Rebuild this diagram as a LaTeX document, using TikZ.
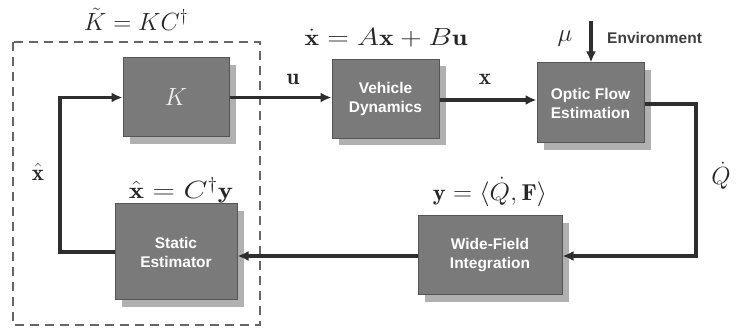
\documentclass[tikz,border=0pt]{standalone}
\usepackage{fontspec}
\newfontfamily\boxfont{Liberation Sans}
\usetikzlibrary{arrows.meta,shadows}
\definecolor{boxfill}{HTML}{7A7A7A}
\definecolor{boxline}{HTML}{555555}
\definecolor{shadowc}{HTML}{B0B0B0}
\definecolor{linec}{HTML}{2E2E2E}
\definecolor{dashc}{HTML}{666666}
\definecolor{kcol}{HTML}{EEEEEE}
\newcommand{\hstretch}[2]{\scalebox{#1}[1]{#2}}
\tikzset{
  blk/.style={draw=boxline, line width=1pt, fill=boxfill, text=white,
    font=\boxfont\bfseries\fontsize{15.5}{19}\selectfont, align=center,
    inner sep=0pt,
    drop shadow={shadow xshift=7pt, shadow yshift=-7pt, fill=shadowc, opacity=1}},
  conn/.style={draw=linec, line width=3.2pt},
  arr/.style={conn, -{Latex[length=11pt,width=10pt]}},
  mlab/.style={font=\fontsize{23}{26}\selectfont, text=black!85, inner sep=0pt},
}
\begin{document}
\begin{tikzpicture}[x=1pt,y=-1pt]
\useasboundingbox (0,0) rectangle (737,331);
% dashed box
\draw[dashc, line width=2.8pt, dash pattern=on 9pt off 6pt] (13,42) rectangle (260,325);
% blocks
\node[blk, minimum width=106pt, minimum height=79pt, text=kcol] (K) at (176,97.5)
  {\fontsize{32}{33}\selectfont$K$};
\node[blk, minimum width=107pt, minimum height=79pt] (veh) at (385.5,99) {Vehicle\\Dynamics};
\node[blk, minimum width=107pt, minimum height=80pt] (opt) at (590.5,103) {Optic Flow\\Estimation};
\node[blk, minimum width=144pt, minimum height=79pt] (wfi) at (490,255.5) {Wide-Field\\Integration};
\node[blk, minimum width=122pt, minimum height=96pt] (se) at (176,252) {Static\\Estimator};
% connectors
\coordinate (c1) at (696,104);
\coordinate (c2) at (696,256);
\coordinate (c3) at (60,252);
\coordinate (c4) at (60,97.5);
\coordinate (env) at (591,21);
\draw[arr] (K.east) -- (veh.west |- K.east);
\draw[arr] (veh.east |- 0,100) -- (opt.west |- 0,100);
\draw[arr] (opt.east |- c1) -- (c1) -- (c2) -- (wfi.east |- c2);
\draw[arr] (wfi.west |- c2) -- (se.east |- c2);
\draw[arr] (se.west) -- (c3) -- (c4) -- (K.west);
\draw[arr] (env) -- (opt.north -| env);
% labels
\node[mlab] (lu) at (293,79) {$\mathbf{u}$};
\node[mlab] (lx) at (485,79) {$\mathbf{x}$};
\node[mlab] (lq) at (721,176) {$\dot{Q}$};
\node[mlab] (lxh) at (38,172) {$\hat{\mathbf{x}}$};
\node[mlab] (lmu) at (565,39) {$\mu$};
\node[font=\boxfont\bfseries\fontsize{15.5}{18}\selectfont, text=black!75, anchor=west, inner sep=0pt] (lenv) at (607,38) {Environment};
\node[mlab] (ldyn) at (386,38) {\hstretch{1.2}{$\dot{\mathbf{x}} = A\mathbf{x} + B\mathbf{u}$}};
\node[mlab] (ly) at (490,192) {\hstretch{1.06}{$\mathbf{y} = \langle \dot{Q}, \mathbf{F}\rangle$}};
\node[mlab] (lse) at (181,190) {\hstretch{1.25}{$\hat{\mathbf{x}} = C^{\dagger}\mathbf{y}$}};
\node[mlab] (lkt) at (136,19) {$\tilde{K} = KC^{\dagger}$};
\end{tikzpicture}
\end{document}
